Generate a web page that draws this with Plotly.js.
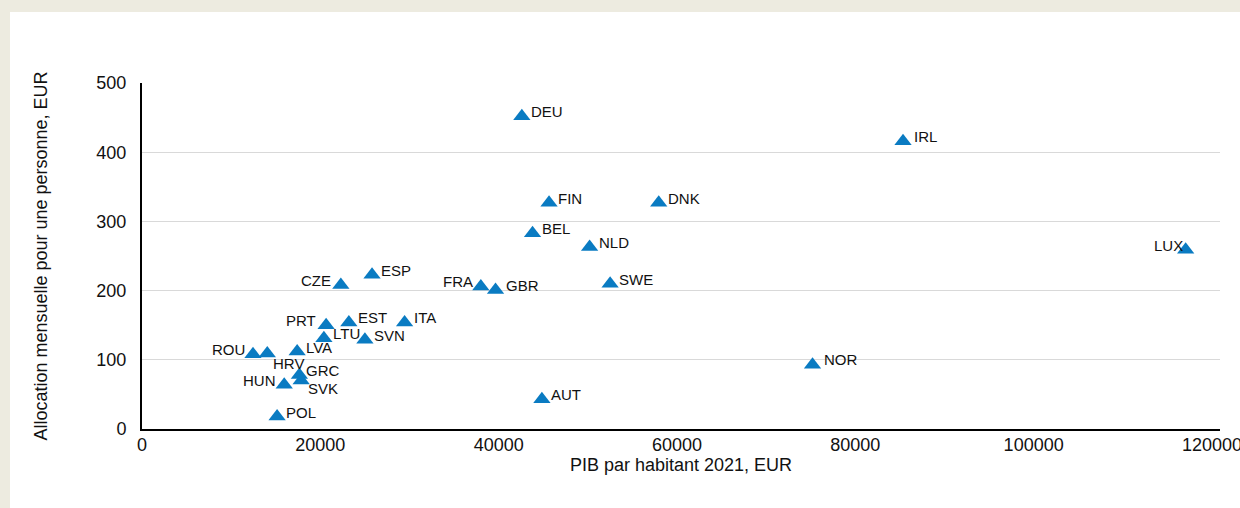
<!DOCTYPE html>
<html>
<head>
<meta charset="utf-8">
<script src="https://cdn.plot.ly/plotly-3.0.1.min.js"></script>
<style>
  html, body { margin: 0; padding: 0; background: #EDEBE0; width: 1240px; height: 508px; overflow: hidden; }
  #panel { position: absolute; left: 10px; top: 12px; width: 1230px; height: 496px; background: #ffffff; }
  #chart { position: absolute; left: 0; top: 0; width: 1240px; height: 508px; }
</style>
</head>
<body>
<div id="panel"></div>
<div id="chart"></div>
<script>
// ---- Data ----
const countries = ["DEU","IRL","FIN","DNK","BEL","NLD","LUX","SWE","FRA","GBR","CZE","ESP",
                   "PRT","EST","ITA","LTU","SVN","ROU","HRV","LVA","GRC","SVK","HUN","POL","NOR","AUT"];
const gdpPerCapita = [42600, 85350, 45650, 57950, 43800, 50200, 117050, 52500, 38000, 39650, 22300, 25800,
                      20650, 23200, 29450, 20400, 25000, 12450, 14050, 17400, 17650, 17850, 15950, 15150, 75200, 44850];
const monthlyAllowance = [452, 416, 327, 327, 283, 263, 259, 210, 206, 201, 208, 223,
                          150, 154, 154, 131, 129, 108, 109, 112, 78, 70, 64, 18, 93, 43];
const xTickVals = [0, 20000, 40000, 60000, 80000, 100000, 120000];
const yTickVals = [0, 100, 200, 300, 400, 500];

const xTitle = "PIB par habitant 2021, EUR";
const yTitle = "Allocation mensuelle pour une personne, EUR";

// ---- Label placement (style only, not data) ----
const defaultLabel = {anchor: "left", dx: 8, dy: 4.5};
const labelPlacement = {
  CZE: {anchor: "right", dx: -9, dy: 4.5},
  PRT: {anchor: "right", dx: -9, dy: 4.5},
  ROU: {anchor: "right", dx: -7, dy: 4.5},
  HUN: {anchor: "right", dx: -7, dy: 4.5},
  FRA: {anchor: "right", dx: -7, dy: 5},
  LUX: {anchor: "right", dx: -2, dy: 4.5},
  HRV: {anchor: "left", dx: 5, dy: -10},
  SVK: {anchor: "left", dx: 6, dy: -8},
  GRC: {anchor: "left", dx: 6, dy: 4.5},
  IRL: {anchor: "left", dx: 10, dy: 5},
  NOR: {anchor: "left", dx: 10, dy: 5.5},
  GBR: {anchor: "left", dx: 9, dy: 4}
};

const FONT = "Liberation Sans, Arial, sans-serif";
const TXT = "#111111";

const annotations = countries.map((c, i) => {
  const p = labelPlacement[c] || defaultLabel;
  return {
    x: gdpPerCapita[i], y: monthlyAllowance[i], xref: "x", yref: "y",
    text: c, showarrow: false,
    xanchor: p.anchor, yanchor: "middle",
    xshift: p.dx, yshift: p.dy,
    borderpad: 0,
    font: {family: FONT, size: 15, color: TXT}
  };
});

const trace = {
  type: "scatter", mode: "markers",
  x: gdpPerCapita, y: monthlyAllowance, text: countries,
  marker: {symbol: "triangle-up", size: 15, color: "#0A7BC2", line: {width: 0}},
  hoverinfo: "text+x+y", cliponaxis: false
};

const layout = {
  width: 1240, height: 508,
  margin: {l: 142, r: 20, t: 83, b: 79, pad: 0},
  paper_bgcolor: "rgba(0,0,0,0)", plot_bgcolor: "rgba(0,0,0,0)",
  showlegend: false,
  font: {family: FONT, size: 18, color: TXT},
  xaxis: {
    range: [0, 120900], tickvals: xTickVals,
    ticktext: xTickVals.map(String),
    showgrid: false, zeroline: false,
    showline: true, linecolor: "#000000", linewidth: 2,
    ticks: "", ticklabelstandoff: -2, ticklabeloverflow: "allow",
    tickfont: {family: FONT, size: 18, color: TXT},
    title: {text: xTitle, font: {family: FONT, size: 18, color: TXT}, standoff: 0}
  },
  yaxis: {
    range: [0, 500], tickvals: yTickVals,
    showgrid: true, gridcolor: "#D9D9D9", gridwidth: 1, zeroline: false,
    showline: true, linecolor: "#000000", linewidth: 2,
    ticks: "", ticklabelstandoff: 10,
    tickfont: {family: FONT, size: 18, color: TXT},
    title: {text: yTitle, font: {family: FONT, size: 18, color: TXT}, standoff: 44}
  },
  annotations: annotations
};

Plotly.newPlot("chart", [trace], layout, {displayModeBar: false, staticPlot: true});
</script>
</body>
</html>
